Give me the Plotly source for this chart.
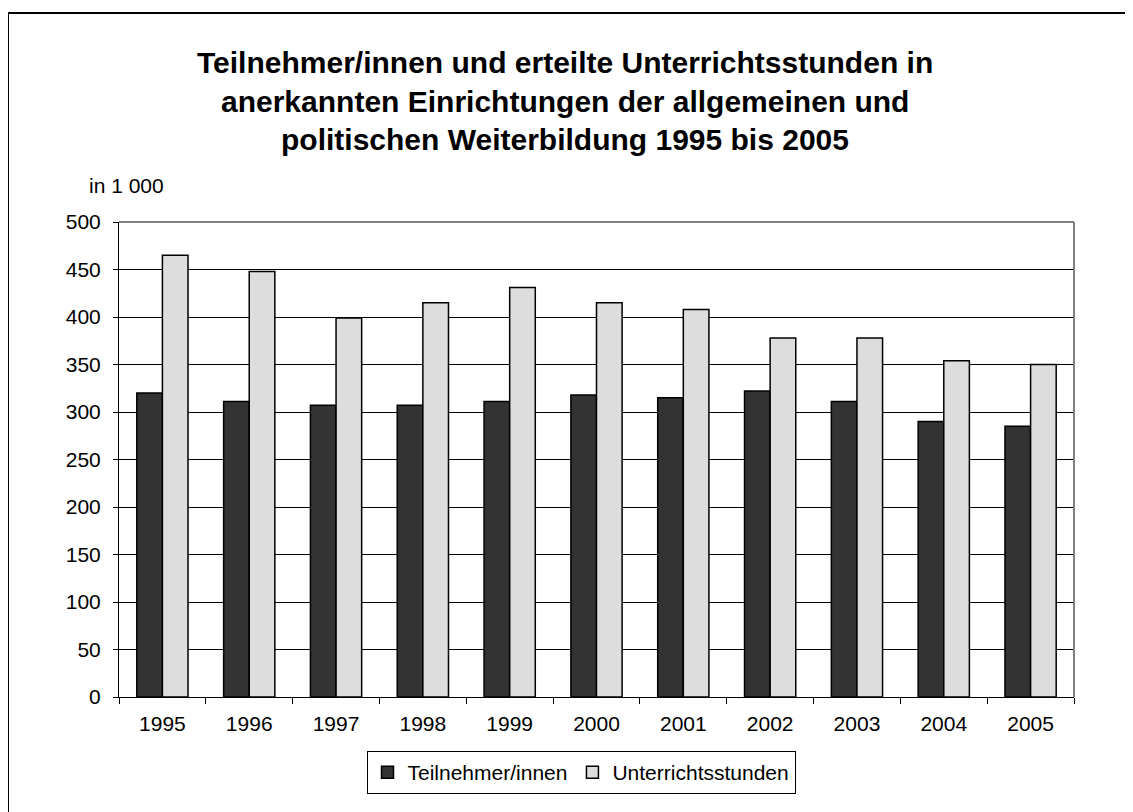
import plotly.graph_objects as go

years = ["1995", "1996", "1997", "1998", "1999", "2000", "2001", "2002", "2003", "2004", "2005"]
teilnehmer = [320, 311, 307, 307, 311, 318, 315, 322, 311, 290, 285]
stunden = [465, 448, 399, 415, 431, 415, 408, 378, 378, 354, 350]
y_ticks = [0, 50, 100, 150, 200, 250, 300, 350, 400, 450, 500]
title_lines = [
    "Teilnehmer/innen und erteilte Unterrichtsstunden in",
    "anerkannten Einrichtungen der allgemeinen und",
    "politischen Weiterbildung 1995 bis 2005",
]

OFF = 8  # page body margin
W, H = 1133 - OFF, 812 - OFF
L, R, T, B = 119 - OFF, 59, 222 - OFF, 115
pw, ph = W - L - R, H - T - B

def px_x(x):
    return (x - OFF - L) / pw

def px_y(y):
    return (H - B - (y - OFF)) / ph

font = "Liberation Sans, Arial, sans-serif"

fig = go.Figure()
fig.add_trace(go.Bar(x=years, y=teilnehmer, name="Teilnehmer/innen",
                     marker=dict(color="#333333", line=dict(color="black", width=1.5))))
fig.add_trace(go.Bar(x=years, y=stunden, name="Unterrichtsstunden",
                     marker=dict(color="#dddddd", line=dict(color="black", width=1.5))))

annotations = []
for line, yy in zip(title_lines, [63, 101, 140]):
    annotations.append(dict(text="<b>" + line + "</b>", x=px_x(565), y=px_y(yy),
                            xref="paper", yref="paper", showarrow=False,
                            xanchor="center", yanchor="middle",
                            font=dict(family=font, size=30, color="black")))
annotations.append(dict(text="in 1 000", x=px_x(87), y=px_y(185), xref="paper", yref="paper",
                        showarrow=False, xanchor="left", yanchor="middle",
                        font=dict(family=font, size=21, color="black")))

shapes = [
    dict(type="rect", xref="paper", yref="paper", x0=px_x(8), y0=-1, x1=1.5, y1=px_y(13),
         line=dict(color="black", width=2), layer="below"),
    dict(type="line", xref="paper", yref="paper", x0=0, x1=1, y0=1, y1=1,
         line=dict(color="#808080", width=2)),
    dict(type="line", xref="paper", yref="paper", x0=1, x1=1, y0=0, y1=1,
         line=dict(color="#808080", width=2)),
]

fig.update_layout(
    width=W, height=H,
    margin=dict(l=L, r=R, t=T, b=B),
    paper_bgcolor="white", plot_bgcolor="white",
    barmode="group", bargap=0.41, bargroupgap=0,
    font=dict(family=font, size=21, color="black"),
    showlegend=True,
    legend=dict(orientation="h", x=px_x(581), y=px_y(751), xanchor="center", yanchor="top",
                bordercolor="black", borderwidth=1, bgcolor="white",
                font=dict(family=font, size=21, color="black"),
                itemwidth=30, tracegroupgap=0),
    annotations=annotations,
    shapes=shapes,
    xaxis=dict(type="category", showline=True, linecolor="black", linewidth=1,
               ticks="outside", tickson="boundaries", ticklen=6, tickcolor="black",
               showgrid=False, tickfont=dict(size=21), ticklabelstandoff=8),
    yaxis=dict(range=[0, 500], tickvals=y_ticks, showline=True, linecolor="black", linewidth=1,
               ticks="outside", ticklen=5, tickcolor="black",
               showgrid=True, gridcolor="black", gridwidth=1, zeroline=False,
               tickfont=dict(size=21), ticklabelstandoff=8),
)

fig.write_html("out.html")
